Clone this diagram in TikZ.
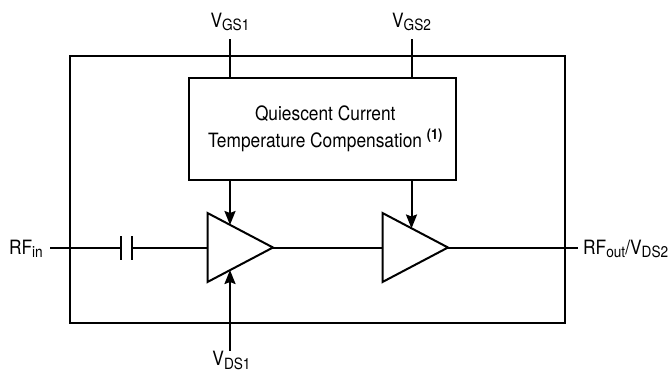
\documentclass[tikz,border=0pt]{standalone}
\usepackage{fontspec}
\setmainfont[FakeStretch=0.88]{TeX Gyre Heros}
\usetikzlibrary{arrows.meta,shapes.geometric}
\newcommand{\lowtxt}[1]{\raisebox{-0.38ex}{\fontsize{15.5}{15.5}\selectfont #1}}
\tikzset{
  wire/.style={line width=2pt},
  feed/.style={wire,-{Stealth[length=14pt,width=11pt,inset=2pt]}},
  amp/.style={draw,line width=2pt,fill=white,isosceles triangle,isosceles triangle stretches,
    minimum width=69pt,minimum height=65.5pt,inner sep=0pt,outer sep=0pt},
  pinlabel/.style={font=\fontsize{19.7}{19.7}\selectfont,inner sep=0pt}
}
\begin{document}
\begin{tikzpicture}[x=1pt,y=-1pt]
        \useasboundingbox (0,0) rectangle (670,373);

        % Outer package and compensation block
        \node [draw,line width=2pt,minimum width=494.5pt,minimum height=266.5pt,inner sep=0pt] (package) at (317.25,189.25) {};
        \node [draw,line width=2pt,fill=white,minimum width=267pt,minimum height=102.5pt,inner sep=0pt,align=center,font=\fontsize{19.7}{26.5}\selectfont] (comp) at (322.25,128.75)
            {\hspace{6pt}Quiescent Current\\\hspace{6pt}Temperature Compensation {\raisebox{0.7ex}{\fontsize{14.5}{14.5}\selectfont\bfseries (1)}}};

        % Amplifier stages
        \node [amp,anchor=lower side] (ampa) at (207.5,247.5) {};
        \node [amp,anchor=lower side] (ampb) at (382.5,247.5) {};
        \coordinate (ampatop) at (230,225);
        \coordinate (ampabot) at (230,270);
        \coordinate (ampbtop) at (411.5,228.5);

        % Pin labels
        \node [pinlabel,anchor=base] (vgsa) at (230,27) {V\lowtxt{GS1}};
        \node [pinlabel,anchor=base] (vgsb) at (411.5,27) {V\lowtxt{GS2}};
        \node [pinlabel,anchor=base] (vdsa) at (231.5,365.5) {V\lowtxt{DS1}};
        \node [pinlabel,anchor=base east] (rfin) at (43,254) {RF\lowtxt{in}};
        \node [pinlabel,anchor=base west] (rfout) at (583,254) {RF\lowtxt{out}/V\lowtxt{DS2}};

        % Free ends of the wires
        \coordinate (vgsaend) at (230,39);
        \coordinate (vgsbend) at (411.5,39);
        \coordinate (vdsaend) at (230,351);
        \coordinate (rfinend) at (50,247.5);
        \coordinate (rfoutend) at (578,247.5);

        % Coupling capacitor
        \coordinate (capa) at (121,247.5);
        \coordinate (capb) at (132,247.5);
        \draw [wire] (121,236) -- (121,260);
        \draw [wire] (132,236) -- (132,260);

        % Wires
        \draw [wire] (vgsaend) -- (vgsaend |- comp.north);
        \draw [wire] (vgsbend) -- (vgsbend |- comp.north);
        \draw [feed] (vgsaend |- comp.south) -- (ampatop);
        \draw [feed] (vgsbend |- comp.south) -- (ampbtop);
        \draw [feed] (vdsaend) -- (ampabot);
        \draw [wire] (rfinend) -- (capa);
        \draw [wire] (capb) -- (ampa.lower side);
        \draw [wire] (ampa.apex) -- (ampb.lower side);
        \draw [wire] (ampb.apex) -- (rfoutend);
    \end{tikzpicture}
\end{document}
